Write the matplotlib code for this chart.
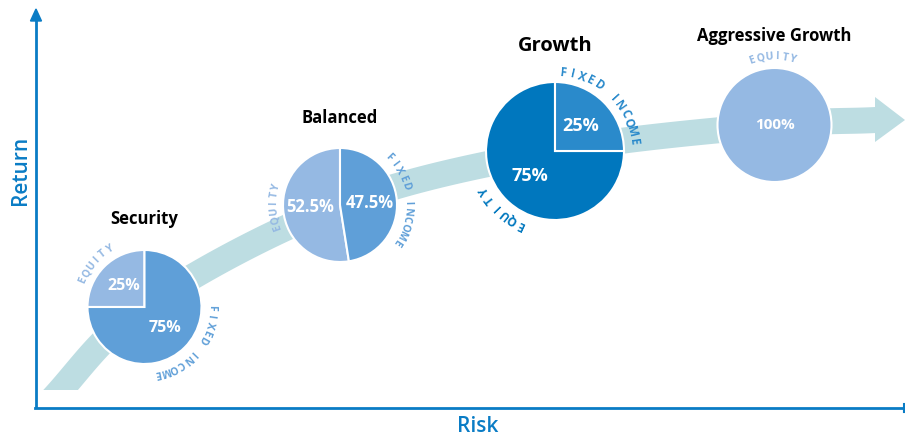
import numpy as np
import matplotlib.pyplot as plt
from matplotlib.patches import Polygon, Rectangle

plt.rcParams['font.family'] = ['Open Sans', 'DejaVu Sans']

# data
portfolios = ["Security", "Balanced", "Growth", "Aggressive Growth"]
equity = [25, 52.5, 75, 100]
fixed_income = [75, 47.5, 25, 0]

# layout (pixel coords, y down)
W, H = 905, 437
centers = [(144.5, 307), (340, 205), (555, 151), (774.5, 125)]
radii = [57, 57, 69, 57]
title_y = [219, 118, 46, 36]
title_size = [12, 12, 14.5, 12]
pct_size = [11.5, 12, 13, 11]
eq_colors = ["#95b9e3", "#95b9e3", "#0077be", "#95b9e3"]
fi_colors = ["#5f9fd8", "#5f9fd8", "#2a8acb", "#5f9fd8"]
# arc text: (start angle, end angle, radius offset)
eq_arc = [(157, 121, 10), (200, 164, 9), (245, 210, 12), (109, 74, 11)]
fi_arc = [(-1, -79, 10), (44, -33, 11), (84, 7, 10), None]
arc_size = [7.5, 7.5, 8.5, 7.5]

axis_c = "#0a7cc5"
band_c = "#bddde2"


def Y(py):
    return H - py


fig = plt.figure(figsize=(W / 100, H / 100), dpi=100)
ax = fig.add_axes([0, 0, 1, 1])
ax.set_xlim(0, W)
ax.set_ylim(0, H)
ax.set_aspect('equal')
ax.axis('off')

# axes with arrow
ax.plot([36, 36], [Y(408), Y(20)], color=axis_c, lw=2, solid_capstyle='butt')
ax.add_patch(Polygon([(30.5, Y(21)), (41.5, Y(21)), (36, Y(9))], color=axis_c))
ax.plot([35, 904], [Y(408), Y(408)], color=axis_c, lw=2)
ax.plot([904, 904], [Y(404), Y(412)], color=axis_c, lw=1.5)
ax.text(20, Y(170), "Return", rotation=90, ha='center', va='center',
        color=axis_c, fontsize=15, fontweight='semibold')
ax.text(478, Y(427), "Risk", ha='center', va='center', color=axis_c,
        fontsize=15, fontweight='semibold')

# curved band through the portfolio centres (Catmull-Rom)
pts = [(45, 407)] + centers + [(876, 120)]
pts = np.array([(x, Y(y)) for x, y in pts], dtype=float)
ext = np.vstack([2 * pts[0] - pts[1], pts, 2 * pts[-1] - pts[-2]])
curve = []
for i in range(1, len(ext) - 2):
    p0, p1, p2, p3 = ext[i - 1], ext[i], ext[i + 1], ext[i + 2]
    for t in np.linspace(0, 1, 30, endpoint=False):
        curve.append(0.5 * ((2 * p1) + (-p0 + p2) * t
                            + (2 * p0 - 5 * p1 + 4 * p2 - p3) * t ** 2
                            + (-p0 + 3 * p1 - 3 * p2 + p3) * t ** 3))
curve.append(pts[-1])
curve = np.array(curve)
d = np.gradient(curve, axis=0)
d /= np.linalg.norm(d, axis=1)[:, None]
nrm = np.column_stack([-d[:, 1], d[:, 0]])
hw = 13
poly = np.vstack([curve + nrm * hw, (curve - nrm * hw)[::-1]])
band = Polygon(poly, closed=True, color=band_c, lw=0, zorder=1)
ax.add_patch(band)
band.set_clip_path(Rectangle((0, Y(390)), W, 400, transform=ax.transData))
ex, ey = curve[-1]
ax.add_patch(Polygon([(ex - 1, ey + 23), (905, ey), (ex - 1, ey - 22)],
                     color=band_c, lw=0, zorder=1))


def arc_text(cx, cy, r, a0, a1, s, color, size):
    n = len(s)
    for i, ch in enumerate(s):
        a = a0 + (a1 - a0) * i / (n - 1)
        ar = np.radians(a)
        ax.text(cx + r * np.cos(ar), cy + r * np.sin(ar), ch, rotation=a - 90,
                rotation_mode='anchor', ha='center', va='center',
                color=color, fontsize=size, fontweight='bold', zorder=4)


for i, name in enumerate(portfolios):
    cx, cy = centers[i][0], Y(centers[i][1])
    r = radii[i]
    vals, cols = [], []
    for v, c in [(equity[i], eq_colors[i]), (fixed_income[i], fi_colors[i])]:
        if v > 0:
            vals.append(v)
            cols.append(c)
    ax.pie(vals, colors=cols, startangle=90, center=(cx, cy), radius=r,
           wedgeprops=dict(edgecolor='white', linewidth=1.5), frame=True)
    # percentage labels
    start = 90
    for v in vals:
        mid = np.radians(start + 3.6 * v / 2)
        dist = 0 if v == 100 else 0.52 * r
        ax.text(cx + dist * np.cos(mid), cy + dist * np.sin(mid), f"{v:g}%",
                ha='center', va='center', color='white', fontweight='bold',
                fontsize=pct_size[i], zorder=4)
        start += 3.6 * v
    ax.text(cx, Y(title_y[i]), name, ha='center', va='center', color='black',
            fontweight='bold', fontsize=title_size[i], zorder=4)
    a0, a1, off = eq_arc[i]
    arc_text(cx, cy, r + off, a0, a1, "EQUITY", eq_colors[i], arc_size[i])
    if fi_arc[i] is not None:
        a0, a1, off = fi_arc[i]
        arc_text(cx, cy, r + off, a0, a1, "FIXED INCOME", fi_colors[i], arc_size[i])

ax.set_xlim(0, W)
ax.set_ylim(0, H)
ax.axis('off')
fig.savefig("out.png", dpi=100)
